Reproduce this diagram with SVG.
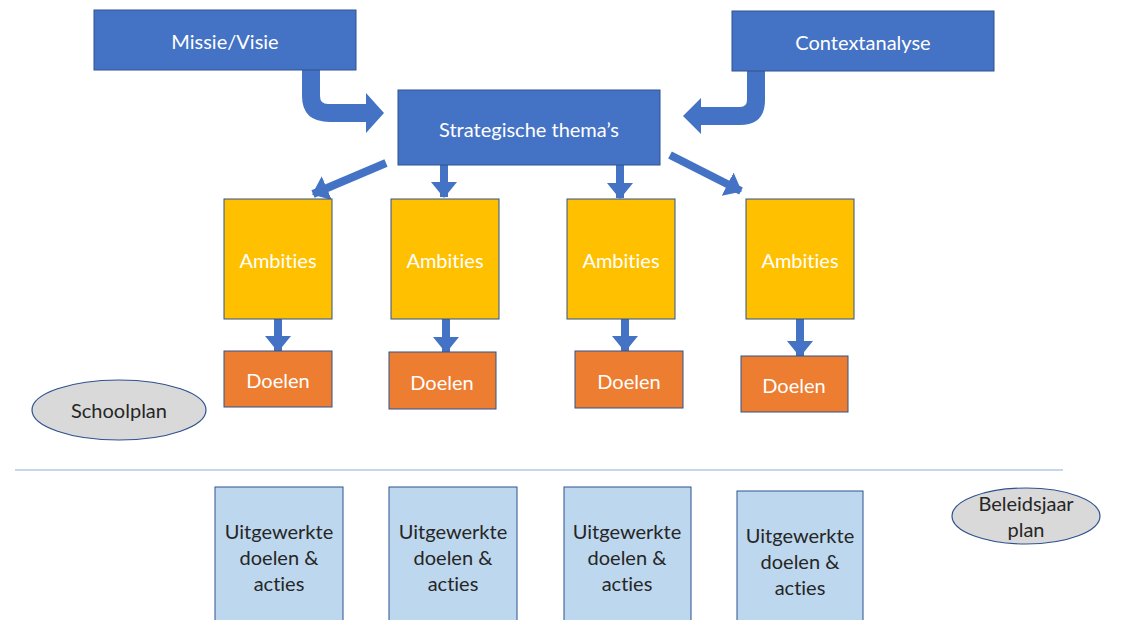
<svg xmlns="http://www.w3.org/2000/svg" width="1131" height="620" viewBox="0 0 1131 620">
<style>
text{font-family:Lato,"Open Sans","Liberation Sans",Arial,sans-serif;font-size:20px;text-anchor:middle;dominant-baseline:central;font-variant-ligatures:none;font-feature-settings:"liga" 0}
.blue{fill:#4472c4;stroke:#2f528f;stroke-width:1}
.yel{fill:#ffc000;stroke:#2f528f;stroke-width:1}
.ora{fill:#ed7d31;stroke:#2f528f;stroke-width:1}
.lb{fill:#bdd7ee;stroke:#2f528f;stroke-width:1}
.ell{fill:#d9d9d9;stroke:#2f528f;stroke-width:1.2}
.w{fill:#ffffff}
.d{fill:#262626}
.arr{stroke:#4472c4;stroke-width:8;fill:none}
.blk{fill:#4472c4}
</style>
<defs>
<marker id="ah" markerUnits="userSpaceOnUse" markerWidth="16" markerHeight="28" refX="15" refY="13" orient="auto" viewBox="0 0 16 26">
<path d="M0,0 L16,13 L0,26 Z" fill="#4472c4"/>
</marker>
</defs>
<rect x="0" y="0" width="1131" height="620" fill="#ffffff"/>
<g id="connectors">
<path class="blk" d="M302,70 L320,70 L320,96 Q320,104 328,104 L366,104 L366,93 L384,113 L366,133 L366,122 L330,122 Q302,122 302,96 Z"/>
<path class="blk" d="M765,71 L765,100 Q765,125 740,125 L701,125 L701,134 L683,116 L701,98 L701,107 L740,107 Q747,107 747,100 L747,71 Z"/>
<line class="arr" x1="386" y1="163" x2="313" y2="194" marker-end="url(#ah)"/>
<line class="arr" x1="444" y1="165" x2="444" y2="197" marker-end="url(#ah)"/>
<line class="arr" x1="620" y1="165" x2="620" y2="198" marker-end="url(#ah)"/>
<line class="arr" x1="670" y1="155" x2="741" y2="191" marker-end="url(#ah)"/>
<line class="arr" x1="278" y1="319" x2="278" y2="351" marker-end="url(#ah)"/>
<line class="arr" x1="446" y1="319" x2="446" y2="352" marker-end="url(#ah)"/>
<line class="arr" x1="625" y1="319" x2="625" y2="351" marker-end="url(#ah)"/>
<line class="arr" x1="800" y1="319" x2="800" y2="356" marker-end="url(#ah)"/>
<line x1="15" y1="470" x2="1063" y2="470" stroke="#b4c7e7" stroke-width="1.5"/>
</g>
<g id="missie"><rect class="blue" x="94" y="10" width="262" height="60"/><text class="w" x="225" y="41">Missie/Visie</text></g>
<g id="context"><rect class="blue" x="732" y="11" width="262" height="60"/><text class="w" x="863" y="42">Contextanalyse</text></g>
<g id="strategisch"><rect class="blue" x="398" y="90" width="262" height="75"/><text class="w" x="529" y="129">Strategische thema’s</text></g>
<g id="ambities1"><rect class="yel" x="224" y="199" width="108" height="120"/><text class="w" x="278" y="260">Ambities</text></g>
<g id="ambities2"><rect class="yel" x="391" y="199" width="108" height="120"/><text class="w" x="445" y="260">Ambities</text></g>
<g id="ambities3"><rect class="yel" x="567" y="199" width="108" height="120"/><text class="w" x="621" y="260">Ambities</text></g>
<g id="ambities4"><rect class="yel" x="746" y="199" width="108" height="120"/><text class="w" x="800" y="260">Ambities</text></g>
<g id="doelen1"><rect class="ora" x="224" y="351" width="108" height="56"/><text class="w" x="278" y="380">Doelen</text></g>
<g id="doelen2"><rect class="ora" x="389" y="352" width="107" height="57"/><text class="w" x="442" y="382">Doelen</text></g>
<g id="doelen3"><rect class="ora" x="575" y="351" width="108" height="57"/><text class="w" x="629" y="381">Doelen</text></g>
<g id="doelen4"><rect class="ora" x="741" y="356" width="107" height="56"/><text class="w" x="794" y="385">Doelen</text></g>
<g id="schoolplan"><ellipse class="ell" cx="119" cy="410" rx="87" ry="30"/><text class="d" x="119" y="410">Schoolplan</text></g>
<g id="uitgewerkt1"><rect class="lb" x="215" y="487" width="128" height="140"/><text class="d" x="279" y="531">Uitgewerkte</text><text class="d" x="279" y="557">doelen &amp;</text><text class="d" x="279" y="583">acties</text></g>
<g id="uitgewerkt2"><rect class="lb" x="389" y="487" width="128" height="140"/><text class="d" x="453" y="531">Uitgewerkte</text><text class="d" x="453" y="557">doelen &amp;</text><text class="d" x="453" y="583">acties</text></g>
<g id="uitgewerkt3"><rect class="lb" x="564" y="487" width="127" height="140"/><text class="d" x="627" y="531">Uitgewerkte</text><text class="d" x="627" y="557">doelen &amp;</text><text class="d" x="627" y="583">acties</text></g>
<g id="uitgewerkt4"><rect class="lb" x="737" y="491" width="126" height="140"/><text class="d" x="800" y="535">Uitgewerkte</text><text class="d" x="800" y="561">doelen &amp;</text><text class="d" x="800" y="587">acties</text></g>
<g id="beleidsjaarplan"><ellipse class="ell" cx="1026" cy="516" rx="74" ry="28"/><text class="d" x="1026" y="503">Beleidsjaar</text><text class="d" x="1026" y="529">plan</text></g>
</svg>
